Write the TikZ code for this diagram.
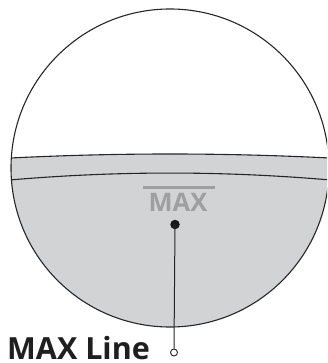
\documentclass[tikz,border=0pt]{standalone}
\usepackage{fontspec}
\setmainfont{Open Sans}
\definecolor{fillgray}{RGB}{210,211,213}
\definecolor{txtgray}{RGB}{158,159,161}
\begin{document}
\begin{tikzpicture}[x=1pt,y=-1pt,
  outline/.style={draw=black!85,line width=1.1pt},
  filldot/.style={circle,fill=black!90,inner sep=0pt,minimum size=9.5pt},
  opendot/.style={circle,draw=black!85,fill=white,line width=0.9pt,inner sep=0pt,minimum size=7pt},
  bigtext/.style={font=\fontsize{30.5}{30.5}\selectfont\bfseries,text=black!88,inner sep=0pt,text depth=0pt,anchor=base west},
  maxtext/.style={font=\fontsize{25.5}{25.5}\selectfont\bfseries,text=txtgray,inner sep=0pt,anchor=base}]
\useasboundingbox (0,0) rectangle (327,363);
\clip (0,0) rectangle (327,363);
% gray liquid
\begin{scope}
  \clip (170,168) circle (159);
  \fill[fillgray] (-5,158.8) .. controls (113,152.4) and (227,152.4) .. (345,158.8) -- (345,340) -- (-5,340) -- cycle;
  \draw[outline] (-5,158.8) .. controls (113,152.4) and (227,152.4) .. (345,158.8);
  \draw[outline] (-5,181.3) .. controls (113,170.3) and (227,170.3) .. (345,181.3);
\end{scope}
\draw[outline] (170,168) circle (159);
% MAX mark
\node[maxtext] (maxtxt) at (178,211.7) {MAX};
\fill[txtgray] (143,186) rectangle (215,188.8);
\node[filldot] (dot) at (175,224.5) {};
\node[opendot] (end) at (174,352.5) {};
\draw[black!85,line width=1pt] (dot.center) -- (end.north);
\node[bigtext] (lbl) at (7,359.8) {MAX Line};
\end{tikzpicture}
\end{document}
